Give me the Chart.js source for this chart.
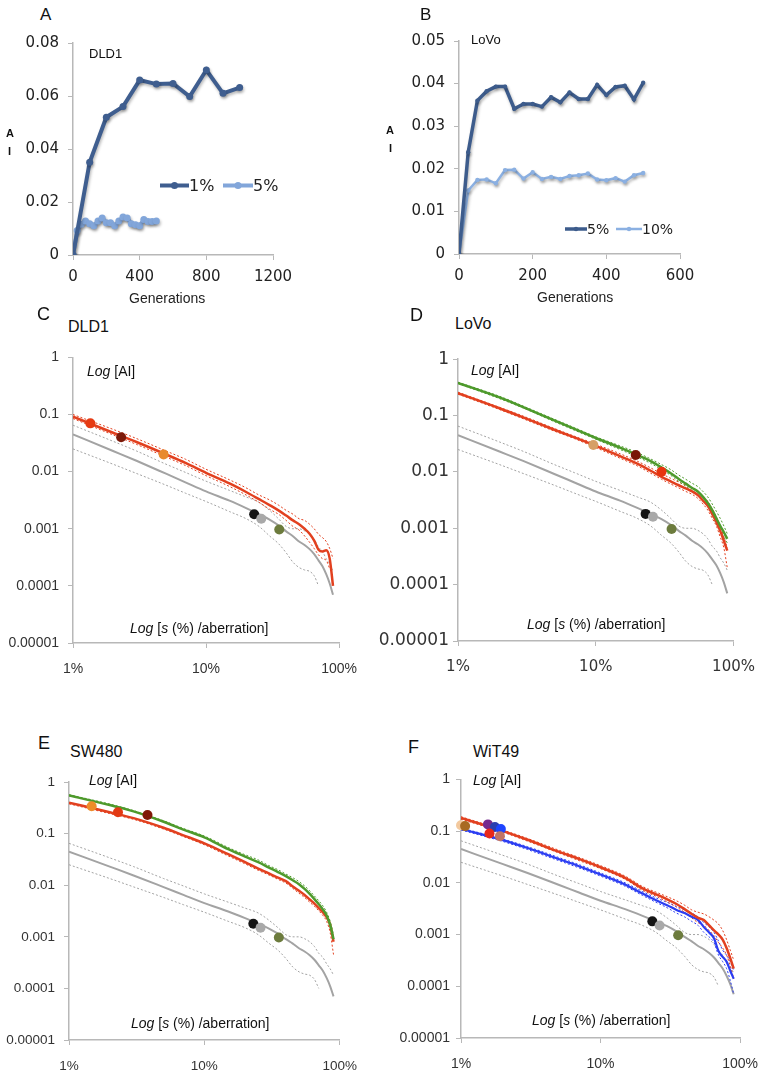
<!DOCTYPE html>
<html>
<head>
<meta charset="utf-8">
<script src="https://cdn.jsdelivr.net/npm/chart.js@4.4.1/dist/chart.umd.min.js"></script>
<style>
html, body { margin: 0; padding: 0; background: #fff; overflow: hidden; width: 763px; height: 1076px; }
canvas { position: absolute; }
.t { position: absolute; font-family: "Liberation Sans", Arial, sans-serif; color: #111; white-space: nowrap; line-height: 1; transform: translateY(-50%); }
.lg { position: absolute; display: flex; align-items: center; font-family: "DejaVu Sans", sans-serif; color: #222; transform: translateY(-50%); }
</style>
</head>
<body>
<canvas id="chartA"></canvas>
<canvas id="chartB"></canvas>
<canvas id="chartC"></canvas>
<canvas id="chartD"></canvas>
<canvas id="chartE"></canvas>
<canvas id="chartF"></canvas>

<!-- panel letters and titles -->
<div class="t" style="left:40px;top:14px;font-size:17px">A</div>
<div class="t" style="left:89px;top:53px;font-size:13px">DLD1</div>
<div class="t" style="left:6px;top:133px;font-size:11px;font-weight:bold">A</div>
<div class="t" style="left:8px;top:151px;font-size:11px;font-weight:bold">I</div>
<div class="t" style="left:129px;top:298px;font-size:14px;color:#222">Generations</div>

<div class="t" style="left:420px;top:14px;font-size:17px">B</div>
<div class="t" style="left:471px;top:39px;font-size:13px">LoVo</div>
<div class="t" style="left:386px;top:130px;font-size:11px;font-weight:bold">A</div>
<div class="t" style="left:389px;top:148px;font-size:11px;font-weight:bold">I</div>
<div class="t" style="left:537px;top:297px;font-size:14px;color:#222">Generations</div>

<div class="t" style="left:37px;top:314px;font-size:18px">C</div>
<div class="t" style="left:68px;top:327px;font-size:16px">DLD1</div>
<div class="t" style="left:87px;top:371px;font-size:14px"><i>Log</i> [AI]</div>
<div class="t" style="left:130px;top:628px;font-size:14px"><i>Log</i> [<i>s</i> (%) /aberration]</div>

<div class="t" style="left:410px;top:315px;font-size:18px">D</div>
<div class="t" style="left:455px;top:324px;font-size:16px">LoVo</div>
<div class="t" style="left:471px;top:370px;font-size:14px"><i>Log</i> [AI]</div>
<div class="t" style="left:527px;top:624px;font-size:14px"><i>Log</i> [<i>s</i> (%) /aberration]</div>

<div class="t" style="left:38px;top:743px;font-size:18px">E</div>
<div class="t" style="left:70px;top:752px;font-size:16px">SW480</div>
<div class="t" style="left:89px;top:780px;font-size:14px"><i>Log</i> [AI]</div>
<div class="t" style="left:131px;top:1023px;font-size:14px"><i>Log</i> [<i>s</i> (%) /aberration]</div>

<div class="t" style="left:408px;top:747px;font-size:18px">F</div>
<div class="t" style="left:473px;top:752px;font-size:16px">WiT49</div>
<div class="t" style="left:473px;top:780px;font-size:14px"><i>Log</i> [AI]</div>
<div class="t" style="left:532px;top:1020px;font-size:14px"><i>Log</i> [<i>s</i> (%) /aberration]</div>

<script>
// ---- Panel A data (DLD1) ----
const genA1 = [0, 100, 200, 300, 400, 500, 600, 700, 800, 900, 1000];
const aiA1 = [0, 0.035, 0.052, 0.056, 0.066, 0.0645, 0.0647, 0.0598, 0.0698, 0.061, 0.0632];
const genA5 = [0, 25, 50, 75, 100, 125, 150, 175, 200, 225, 250, 275, 300, 325, 350, 375, 400, 425, 450, 475, 500];
const aiA5 = [0, 0.0092, 0.0116, 0.0128, 0.0118, 0.011, 0.0128, 0.014, 0.0122, 0.0122, 0.011, 0.0128, 0.0143, 0.014, 0.0118, 0.0114, 0.011, 0.0134, 0.0126, 0.0126, 0.0128];
const seriesA = ["1%", "5%"];

// ---- Panel B data (LoVo) ----
const genB = [0, 25, 50, 75, 100, 125, 150, 175, 200, 225, 250, 275, 300, 325, 350, 375, 400, 425, 450, 475, 500];
const aiB5 = [0, 0.0239, 0.036, 0.0382, 0.0393, 0.0393, 0.0341, 0.0352, 0.0352, 0.0346, 0.0368, 0.0356, 0.0379, 0.0364, 0.0364, 0.0397, 0.0373, 0.0392, 0.0395, 0.0363, 0.0402];
const aiB10 = [0, 0.0149, 0.0174, 0.0175, 0.0166, 0.0197, 0.0198, 0.0177, 0.0192, 0.0176, 0.0181, 0.0176, 0.0183, 0.0185, 0.0189, 0.0175, 0.0173, 0.0178, 0.017, 0.0185, 0.019];
const seriesB = ["5%", "10%"];

// ---- log panels: s (%) grid shared by all curves ----
const sPct = [1, 2, 3, 5, 7, 10, 15, 20, 25, 30, 35, 40, 45, 50, 55, 60, 65, 70, 75, 80, 85, 90];
const pctTicks = [1, 10, 100];
const pctTickLabels = ["1%", "10%", "100%"];
const aiTicks = [0.00001, 0.0001, 0.001, 0.01, 0.1, 1];
const aiTickLabels = ["0.00001", "0.0001", "0.001", "0.01", "0.1", "1"];

// neutral reference curve (grey) and its bounds, same in every panel
const neutralAI = [0.045, 0.023, 0.0155, 0.0092, 0.0065, 0.0045, 0.0031, 0.0023, 0.0018, 0.00145, 0.00115, 0.0009, 0.00074, 0.0006, 0.00052, 0.00044, 0.00036, 0.00028, 0.00022, 0.00016, 0.00011, 0.00007];
const neutralUp = [0.065, 0.034, 0.023, 0.0135, 0.0097, 0.0068, 0.0047, 0.0036, 0.0029, 0.0021, 0.0015, 0.0011, 0.001, 0.001, 0.00092, 0.0008, 0.00065, 0.00048, 0.0004, 0.0003, 0.00024, 0.00018];
const neutralLo = [0.025, 0.0135, 0.0093, 0.0058, 0.0042, 0.003, 0.002, 0.0015, 0.0011, 0.00075, 0.00055, 0.00038, 0.00026, 0.00021, 0.00019, 0.00018, 0.00015, 0.0001, null, null, null, null];

// Panel C (DLD1)
const redC = [0.092, 0.048, 0.033, 0.02, 0.0142, 0.0095, 0.0062, 0.0044, 0.0033, 0.0026, 0.0021, 0.0017, 0.0014, 0.0012, 0.001, 0.00082, 0.00062, 0.00043, 0.0004, 0.00042, 0.0003, 0.0001];
const redCUp = [0.1, 0.055, 0.038, 0.023, 0.0165, 0.011, 0.0072, 0.0052, 0.0039, 0.0032, 0.0026, 0.0021, 0.0018, 0.0015, 0.0014, 0.0012, 0.001, 0.0008, 0.0007, 0.0006, 0.00045, 0.0003];
const redCLo = [0.085, 0.044, 0.03, 0.018, 0.0128, 0.0085, 0.0055, 0.0039, 0.0029, 0.0022, 0.0018, 0.0014, 0.0011, 0.00095, 0.00075, 0.00058, 0.00045, 0.00035, 0.0003, 0.00028, 0.0002, null];
const dotsCx = [1.35, 2.3, 4.8, 23, 26, 35.5];
const dotsCy = [0.07, 0.04, 0.02, 0.0018, 0.0015, 0.00097];

// Panel D (LoVo)
const greenD = [0.38, 0.21, 0.14, 0.082, 0.058, 0.04, 0.027, 0.02, 0.0155, 0.012, 0.0095, 0.0075, 0.0062, 0.0052, 0.0045, 0.0036, 0.0028, 0.0021, 0.0015, 0.0011, 0.00085, 0.00065];
const greenDUp = [0.39, 0.22, 0.146, 0.086, 0.061, 0.042, 0.029, 0.022, 0.017, 0.0135, 0.011, 0.0088, 0.0074, 0.0063, 0.0055, 0.0045, 0.0036, 0.0027, 0.002, 0.0015, 0.0011, 0.0008];
const greenDLo = [0.37, 0.2, 0.135, 0.078, 0.055, 0.038, 0.025, 0.0185, 0.0142, 0.011, 0.0087, 0.0068, 0.0056, 0.0047, 0.004, 0.0031, 0.0024, 0.0017, 0.0012, 0.0009, 0.0007, 0.00055];
const redD = [0.25, 0.135, 0.092, 0.056, 0.041, 0.029, 0.019, 0.014, 0.0105, 0.0082, 0.0068, 0.0058, 0.0051, 0.0045, 0.0039, 0.0031, 0.0025, 0.0018, 0.0013, 0.0009, 0.0006, 0.0004];
const redDUp = [0.26, 0.14, 0.097, 0.059, 0.043, 0.031, 0.021, 0.0155, 0.0118, 0.0093, 0.0077, 0.0066, 0.0058, 0.0051, 0.0045, 0.0037, 0.003, 0.0022, 0.0016, 0.0011, 0.0007, 0.00045];
const redDLo = [0.24, 0.128, 0.087, 0.053, 0.039, 0.027, 0.0175, 0.0128, 0.0095, 0.0074, 0.0061, 0.0052, 0.0045, 0.004, 0.0034, 0.0027, 0.0021, 0.0015, 0.0011, 0.0007, 0.00045, 0.0002];
const dotsDx = [9.6, 19.5, 30, 23, 26, 35.5];
const dotsDy = [0.03, 0.02, 0.0101, 0.0018, 0.0016, 0.00097];

// Panel E (SW480)
const greenE = [0.55, 0.36, 0.27, 0.17, 0.12, 0.085, 0.05, 0.036, 0.028, 0.022, 0.018, 0.015, 0.0125, 0.0105, 0.0085, 0.0068, 0.0054, 0.0043, 0.0034, 0.0026, 0.0017, 0.0009];
const greenEUp = [0.57, 0.375, 0.28, 0.178, 0.126, 0.09, 0.054, 0.039, 0.031, 0.024, 0.02, 0.0165, 0.014, 0.0118, 0.0097, 0.0078, 0.0062, 0.005, 0.004, 0.003, 0.002, 0.0011];
const redE = [0.4, 0.26, 0.2, 0.13, 0.093, 0.065, 0.04, 0.028, 0.021, 0.017, 0.014, 0.012, 0.0095, 0.0078, 0.0065, 0.0053, 0.0044, 0.0036, 0.003, 0.0024, 0.0017, 0.0008];
const redELo = [0.38, 0.245, 0.19, 0.123, 0.088, 0.061, 0.037, 0.026, 0.0195, 0.0158, 0.013, 0.011, 0.0087, 0.007, 0.0058, 0.0047, 0.0039, 0.0032, 0.0026, 0.002, 0.0012, 0.00045];
const dotsEx = [1.47, 2.3, 3.8, 23, 26, 35.5];
const dotsEy = [0.34, 0.26, 0.23, 0.0018, 0.0015, 0.00097];

// Panel F (WiT49)
const redF = [0.18, 0.1, 0.068, 0.04, 0.029, 0.02, 0.0125, 0.0078, 0.006, 0.0048, 0.0039, 0.0031, 0.0025, 0.0021, 0.0019, 0.0015, 0.0012, 0.001, 0.0008, 0.00055, 0.00035, 0.00022];
const redFUp = [0.19, 0.105, 0.072, 0.043, 0.031, 0.0215, 0.0135, 0.0085, 0.0066, 0.0054, 0.0045, 0.0037, 0.003, 0.0027, 0.0025, 0.0022, 0.0019, 0.0016, 0.0012, 0.0008, 0.0005, 0.00032];
const redFLo = [0.17, 0.095, 0.064, 0.038, 0.027, 0.0188, 0.0117, 0.0072, 0.0055, 0.0043, 0.0034, 0.0027, 0.0021, 0.0017, 0.0015, 0.0012, 0.00095, 0.0007, 0.00055, 0.0004, 0.00025, 0.00014];
const blueF = [0.11, 0.067, 0.047, 0.029, 0.021, 0.0145, 0.0093, 0.0062, 0.0046, 0.0037, 0.003, 0.0026, 0.0022, 0.0019, 0.0014, 0.0011, 0.00085, 0.00048, 0.00037, 0.0003, 0.0002, 0.00014];
const blueFUp = [0.115, 0.07, 0.05, 0.031, 0.0225, 0.0155, 0.01, 0.0068, 0.0051, 0.0042, 0.0035, 0.003, 0.0026, 0.0022, 0.0017, 0.0014, 0.0011, 0.00075, 0.0005, 0.0004, 0.0003, 0.0002];
const blueFLo = [0.105, 0.063, 0.044, 0.027, 0.0195, 0.0135, 0.0086, 0.0057, 0.0042, 0.0033, 0.0026, 0.0022, 0.0018, 0.0015, 0.0011, 0.0009, 0.0007, 0.0004, 0.0003, 0.00022, 0.00013, 0.00007];
const dotsFx = [1.0, 1.07, 1.56, 1.75, 1.93, 1.6, 1.9, 23.5, 26.5, 36];
const dotsFy = [0.13, 0.125, 0.135, 0.12, 0.11, 0.09, 0.08, 0.0018, 0.0015, 0.00097];

// ---- styling ----
const RED = "#e2401f", GREEN = "#4e9a2c", BLUE = "#2b3df2", GREY = "#a3a3a3";
const AXIS = "#b8b8b8";
const XH = 40, PT = 12, PR = 30;
const dotColorsC = ["#e63a12", "#7c1a0a", "#e88a2e", "#151515", "#a9a9a9", "#6c7b3d"];
const dotColorsD = ["#d6a066", "#7a1606", "#e8340e", "#151515", "#a9a9a9", "#6c7b3d"];
const dotColorsE = ["#ee8c2a", "#e23a14", "#801808", "#151515", "#a9a9a9", "#6c7b3d"];
const dotColorsF = ["#f3c99e", "#a86a22", "#762a8e", "#2a3fb0", "#1e44ff", "#e8281a", "#c27465", "#151515", "#a9a9a9", "#6c7b3d"];

Chart.defaults.animation = false;
Chart.defaults.devicePixelRatio = 1;

function pts(xs, ys) {
    return xs.map((x, i) => ({ x: x, y: ys[i] })).filter(p => p.y !== null && p.y !== undefined);
}

// place a canvas so that its chart area lands on the given page box
function place(id, area, yw) {
    const c = document.getElementById(id);
    const w = area.r - area.l + yw + PR;
    const h = area.b - area.t + PT + XH;
    c.width = w;
    c.height = h;
    c.style.left = (area.l - yw) + "px";
    c.style.top = (area.t - PT) + "px";
    c.style.width = w + "px";
    c.style.height = h + "px";
    return c;
}

const shadowPlugin = {
    id: "shadow",
    beforeDatasetsDraw(chart) {
        const ctx = chart.ctx;
        ctx.save();
        ctx.shadowColor = "rgba(0,0,0,0.28)";
        ctx.shadowBlur = 3;
        ctx.shadowOffsetX = 1;
        ctx.shadowOffsetY = 2;
    },
    afterDatasetsDraw(chart) {
        chart.ctx.restore();
    }
};

function lineSet(xs, ys, color, width, dashed) {
    return {
        data: pts(xs, ys),
        showLine: true,
        borderColor: color,
        borderWidth: width,
        borderDash: dashed ? [2, 2] : [],
        pointRadius: 0,
        cubicInterpolationMode: "monotone",
        fill: false
    };
}

function dotSet(xs, ys, colors) {
    return {
        data: pts(xs, ys),
        showLine: false,
        pointRadius: 5,
        pointHoverRadius: 5,
        pointBackgroundColor: colors,
        pointBorderWidth: 0,
        clip: false
    };
}

function linearChart(id, area, datasets, xMax, xStep, yMax, yStep, tickFont) {
    const yw = 70;
    const canvas = place(id, area, yw);
    return new Chart(canvas, {
        type: "scatter",
        data: { datasets: datasets },
        plugins: [shadowPlugin],
        options: {
            responsive: false,
            layout: { padding: { top: PT, right: PR, left: 0, bottom: 0 } },
            plugins: { legend: { display: false }, tooltip: { enabled: false } },
            scales: {
                x: {
                    type: "linear", min: 0, max: xMax,
                    afterFit: s => { s.height = XH; },
                    ticks: { stepSize: xStep, padding: 8, color: "#222", font: tickFont, maxRotation: 0,
                             callback: v => String(v) },
                    grid: { drawOnChartArea: false, tickLength: 5, color: AXIS },
                    border: { color: AXIS, width: 1.5 }
                },
                y: {
                    type: "linear", min: 0, max: yMax,
                    afterFit: s => { s.width = yw; },
                    ticks: {
                        stepSize: yStep, padding: 9, color: "#222", font: tickFont,
                        callback: v => (v === 0 ? "0" : v.toFixed(2))
                    },
                    grid: { drawOnChartArea: false, tickLength: 5, color: AXIS },
                    border: { color: AXIS, width: 1.5 }
                }
            }
        }
    });
}

function logChart(id, area, datasets, fonts) {
    const yw = fonts.yw || 70;
    const canvas = place(id, area, yw);
    return new Chart(canvas, {
        type: "scatter",
        data: { datasets: datasets },
        options: {
            responsive: false,
            layout: { padding: { top: PT, right: PR, left: 0, bottom: 0 } },
            plugins: { legend: { display: false }, tooltip: { enabled: false } },
            scales: {
                x: {
                    type: "logarithmic", min: 1, max: 100,
                    afterFit: s => { s.height = XH; },
                    afterBuildTicks: s => { s.ticks = pctTicks.map(v => ({ value: v })); },
                    ticks: {
                        padding: fonts.xPad, color: "#333", font: fonts.x, maxRotation: 0, autoSkip: false,
                        callback: (v, i) => pctTickLabels[i]
                    },
                    grid: { drawOnChartArea: false, tickLength: 5, color: AXIS },
                    border: { color: AXIS, width: 1.5 }
                },
                y: {
                    type: "logarithmic", min: 0.00001, max: 1,
                    afterFit: s => { s.width = yw; },
                    afterBuildTicks: s => { s.ticks = aiTicks.map(v => ({ value: v })); },
                    ticks: {
                        padding: fonts.yPad, color: "#333", font: fonts.y, autoSkip: false,
                        callback: (v, i) => aiTickLabels[i]
                    },
                    grid: { drawOnChartArea: false, tickLength: 5, color: AXIS },
                    border: { color: AXIS, width: 1.5 }
                }
            }
        }
    });
}

function neutralSets() {
    return [
        lineSet(sPct, neutralAI, GREY, 2, false),
        lineSet(sPct, neutralUp, GREY, 1, true),
        lineSet(sPct, neutralLo, GREY, 1, true)
    ];
}

// ---- Panel A ----
const fontAB = { family: "DejaVu Sans", size: 15 };
linearChart("chartA", { l: 73, t: 37, r: 273, b: 255 }, [
    { label: seriesA[0], data: pts(genA1, aiA1), showLine: true, borderColor: "#3f5e8f", borderWidth: 4,
      pointRadius: 3.5, pointBackgroundColor: "#3f5e8f", pointBorderWidth: 0 },
    { label: seriesA[1], data: pts(genA5, aiA5), showLine: true, borderColor: "#82a6da", borderWidth: 4,
      pointRadius: 3.5, pointBackgroundColor: "#82a6da", pointBorderWidth: 0 }
], 1200, 400, 0.08, 0.02, fontAB);

// ---- Panel B ----
linearChart("chartB", { l: 459, t: 35, r: 680, b: 254 }, [
    { label: seriesB[0], data: pts(genB, aiB5), showLine: true, borderColor: "#3d5c8c", borderWidth: 3.5,
      pointRadius: 2.2, pointBackgroundColor: "#3d5c8c", pointBorderWidth: 0 },
    { label: seriesB[1], data: pts(genB, aiB10), showLine: true, borderColor: "#8bb0e2", borderWidth: 2.5,
      pointRadius: 2.2, pointBackgroundColor: "#8bb0e2", pointBorderWidth: 0 }
], 600, 200, 0.05, 0.01, fontAB);

// ---- Panel C ----
const fontStd = { x: { family: "Liberation Sans", size: 14 }, y: { family: "Liberation Sans", size: 14 }, xPad: 13, yPad: 9 };
logChart("chartC", { l: 73, t: 352, r: 340, b: 643 }, [
    dotSet(dotsCx, dotsCy, dotColorsC),
    lineSet(sPct, redC, RED, 2.5, false),
    lineSet(sPct, redCUp, RED, 1, true),
    lineSet(sPct, redCLo, RED, 1, true)
].concat(neutralSets()), fontStd);

// ---- Panel D ----
const fontD = { x: { family: "DejaVu Sans", size: 15 }, y: { family: "DejaVu Sans", size: 17 }, xPad: 12, yPad: 4, yw: 86 };
logChart("chartD", { l: 458, t: 357, r: 737, b: 641 }, [
    dotSet(dotsDx, dotsDy, dotColorsD),
    lineSet(sPct, greenD, GREEN, 2.5, false),
    lineSet(sPct, redD, RED, 2.5, false),
    lineSet(sPct, greenDUp, GREEN, 1, true),
    lineSet(sPct, greenDLo, GREEN, 1, true),
    lineSet(sPct, redDUp, RED, 1, true),
    lineSet(sPct, redDLo, RED, 1, true)
].concat(neutralSets()), fontD);

// ---- Panel E ----
const fontE = { x: { family: "Liberation Sans", size: 13.5 }, y: { family: "Liberation Sans", size: 13.5 }, xPad: 13, yPad: 9 };
logChart("chartE", { l: 69, t: 777, r: 340, b: 1040 }, [
    dotSet(dotsEx, dotsEy, dotColorsE),
    lineSet(sPct, greenE, GREEN, 2.5, false),
    lineSet(sPct, redE, RED, 2.5, false),
    lineSet(sPct, greenEUp, GREEN, 1, true),
    lineSet(sPct, redELo, RED, 1, true)
].concat(neutralSets()), fontE);

// ---- Panel F ----
logChart("chartF", { l: 461, t: 777, r: 741, b: 1038 }, [
    dotSet(dotsFx, dotsFy, dotColorsF),
    lineSet(sPct, redF, RED, 2.5, false),
    lineSet(sPct, blueF, BLUE, 2.2, false),
    lineSet(sPct, redFUp, RED, 1, true),
    lineSet(sPct, redFLo, RED, 1, true),
    lineSet(sPct, blueFUp, BLUE, 1, true),
    lineSet(sPct, blueFLo, BLUE, 1, true)
].concat(neutralSets()), { x: { family: "Liberation Sans", size: 14 }, y: { family: "Liberation Sans", size: 14 }, xPad: 13, yPad: 6 });

// ---- legends for A and B (line + marker + label) ----
function legendEntry(x, y, lineW, color, thick, dotR, text, size) {
    const el = document.createElement("div");
    el.className = "lg";
    el.style.left = x + "px";
    el.style.top = y + "px";
    el.style.fontSize = size + "px";
    const h = 12;
    el.innerHTML = '<svg width="' + lineW + '" height="' + h + '">' +
        '<line x1="0" y1="' + h / 2 + '" x2="' + lineW + '" y2="' + h / 2 + '" stroke="' + color + '" stroke-width="' + thick + '"/>' +
        '<circle cx="' + lineW / 2 + '" cy="' + h / 2 + '" r="' + dotR + '" fill="' + color + '"/></svg>' +
        '<span>' + text + '</span>';
    document.body.appendChild(el);
}
legendEntry(160, 185, 29, "#3f5e8f", 4, 3.5, seriesA[0], 16);
legendEntry(223, 185, 30, "#82a6da", 4, 3.5, seriesA[1], 16);
legendEntry(565, 229, 22, "#3d5c8c", 3.5, 2.2, seriesB[0], 14);
legendEntry(616, 229, 26, "#8bb0e2", 2.5, 2.2, seriesB[1], 14);
</script>
</body>
</html>
